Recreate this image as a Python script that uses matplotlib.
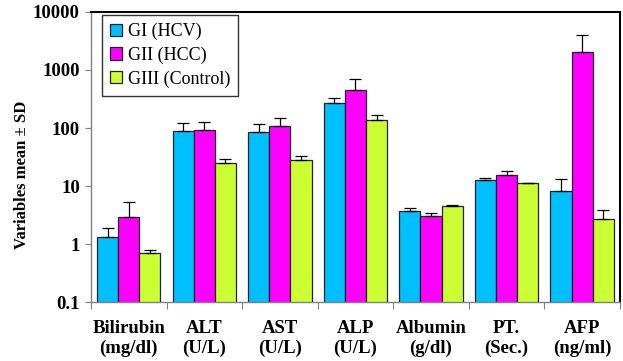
import numpy as np
import matplotlib.pyplot as plt

# ================== DATA ==================

categories = ["Bilirubin\n(mg/dl)", "ALT\n(U/L)", "AST\n(U/L)", "ALP\n(U/L)",
              "Albumin\n(g/dl)", "PT.\n(Sec.)", "AFP\n(ng/ml)"]
groups = ["GI (HCV)", "GII (HCC)", "GIII (Control)"]

gi_mean = [1.32, 88, 85, 267, 3.7, 12.7, 8.1]
gi_sd = [0.58, 34, 31, 58, 0.5, 1.2, 4.9]

gii_mean = [2.92, 91, 107, 446, 3.07, 15.5, 2020]
gii_sd = [2.4, 37, 43, 244, 0.39, 2.9, 1980]

giii_mean = [0.70, 25, 28, 139, 4.52, 11.3, 2.67]
giii_sd = [0.09, 4, 4.5, 26, 0.15, 0.1, 1.13]

colors = ["#00BFFF", "#FF00FF", "#CCFF33"]

# ================== PLOT ==================

plt.rcParams["font.family"] = ["Liberation Serif", "DejaVu Serif"]

fig = plt.figure(figsize=(6.23, 3.61), dpi=100)
ax = fig.add_axes([0.146, 0.163, 0.849, 0.804])

x = np.arange(len(categories))
width = 0.28
means = [gi_mean, gii_mean, giii_mean]
sds = [gi_sd, gii_sd, giii_sd]

for i, (m, s) in enumerate(zip(means, sds)):
    pos = x + (i - 1) * width
    ax.bar(pos, m, width, color=colors[i], edgecolor="#222222", linewidth=0.9,
           label=groups[i], zorder=2)
    ax.errorbar(pos, m, yerr=[np.zeros(len(m)), s], fmt="none", ecolor="black",
                elinewidth=0.9, capsize=4, capthick=0.9, zorder=3)

ax.set_yscale("log")
ax.set_ylim(0.1, 10000)
ax.set_xlim(-0.5, len(categories) - 0.5)

yticks = [0.1, 1, 10, 100, 1000, 10000]
ax.set_yticks(yticks)
ax.set_yticklabels(["0.1", "1", "10", "100", "1000", "10000"],
                   fontsize=13.5, fontweight="bold")
ax.yaxis.set_minor_locator(plt.NullLocator())
ax.tick_params(axis="y", length=4, color="gray", width=0.8, pad=4)

ax.set_xticks(x)
ax.set_xticklabels(categories, fontsize=13.5, fontweight="bold", linespacing=1.15)
ax.tick_params(axis="x", length=0, pad=13)
ax.set_xticks(np.arange(-0.5, len(categories)), minor=True)
ax.tick_params(axis="x", which="minor", length=5, color="gray", width=0.8)

ax.set_ylabel("Variables mean ± SD", fontsize=12, fontweight="bold")
ax.yaxis.set_label_coords(-0.115, 0.44)

for side in ["left", "bottom"]:
    ax.spines[side].set_color("gray")
    ax.spines[side].set_linewidth(1.0)
for side in ["top", "right"]:
    ax.spines[side].set_color("black")
    ax.spines[side].set_linewidth(1.5)

leg = ax.legend(loc="upper left", bbox_to_anchor=(0.02, 0.99), fontsize=13,
                frameon=True, fancybox=False, edgecolor="black",
                handlelength=0.7, handleheight=0.7, handletextpad=0.3,
                borderpad=0.45, labelspacing=0.35, borderaxespad=0)
leg.get_frame().set_linewidth(1.0)

fig.savefig("out.png", dpi=100)
